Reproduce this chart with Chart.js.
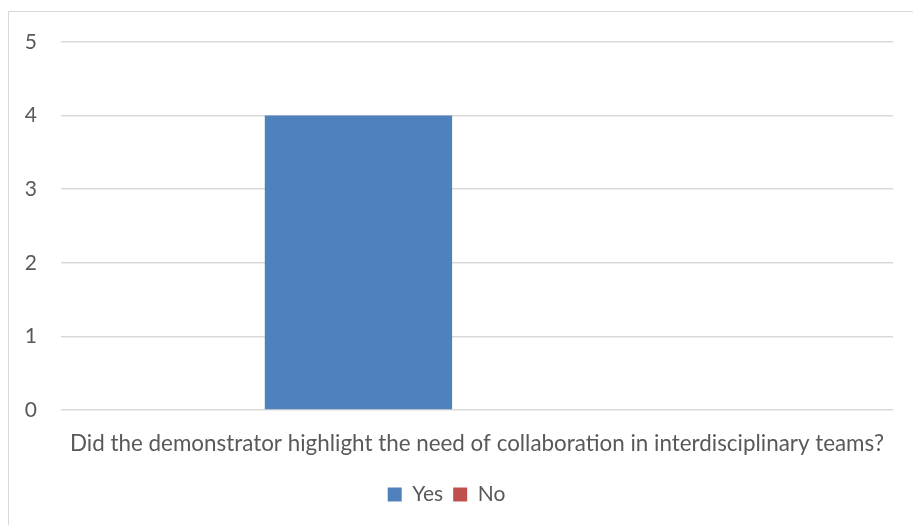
<!DOCTYPE html>
<html>
<head>
<meta charset="utf-8">
<script src="https://cdn.jsdelivr.net/npm/chart.js@4"></script>
<style>
  html, body { margin: 0; padding: 0; background: #fff; overflow: hidden; }
  .frame { position: absolute; left: 8px; top: 11px; width: 940px; height: 560px; border: 1.5px solid #d9d9d9; }
  .wrap { position: absolute; left: 0; top: 0; width: 913px; height: 525px; }
</style>
</head>
<body>
<div class="frame"></div>
<div class="wrap"><canvas id="chart"></canvas></div>
<script>
let categories = ["Did the demonstrator highlight the need of collaboration in interdisciplinary teams?"];
let yesValues = [4];
let noValues = [0];
let seriesNames = ["Yes", "No"];

let textColor = '#595959';
let fontName = 'Lato';

let ctx = document.getElementById("chart");

let cfg = {
  type: 'bar',
  data: {
    labels: categories,
    datasets: [{
        label: seriesNames[0],
        data: yesValues,
        backgroundColor: '#4f81bd',
        categoryPercentage: 0.57,
        barPercentage: 0.79
    },
    {
        label: seriesNames[1],
        data: noValues,
        backgroundColor: '#c0504d',
        categoryPercentage: 0.57,
        barPercentage: 0.79
    }]
  },
  options: {
    responsive: true,
    maintainAspectRatio: false,
    animation: false,
    layout: {
        padding: { top: 42, right: 20, bottom: 10, left: 0 }
    },
    scales: {
        x: {
            grid: { display: false },
            border: { display: false },
            ticks: {
                color: textColor,
                font: { family: fontName, size: 22.4 },
                padding: 12,
                maxRotation: 0
            },
            afterFit: (scale) => { scale.height = 64; }
        },
        y: {
            min: 0,
            max: 5,
            grid: { color: '#d9d9d9', lineWidth: 1.5, drawTicks: false },
            border: { display: false },
            ticks: {
                stepSize: 1,
                color: textColor,
                font: { family: fontName, size: 21 },
                padding: 24
            },
            afterFit: (scale) => { scale.width = 61; }
        }
    },
    plugins: {
        tooltip: { enabled: false },
        legend: {
            position: 'bottom',
            labels: {
                boxWidth: 14,
                boxHeight: 14,
                color: textColor,
                font: { family: fontName, size: 21 },
                padding: 10
            }
        }
    }
  }
};

let chart = new Chart(ctx, cfg);
</script>
</body>
</html>
